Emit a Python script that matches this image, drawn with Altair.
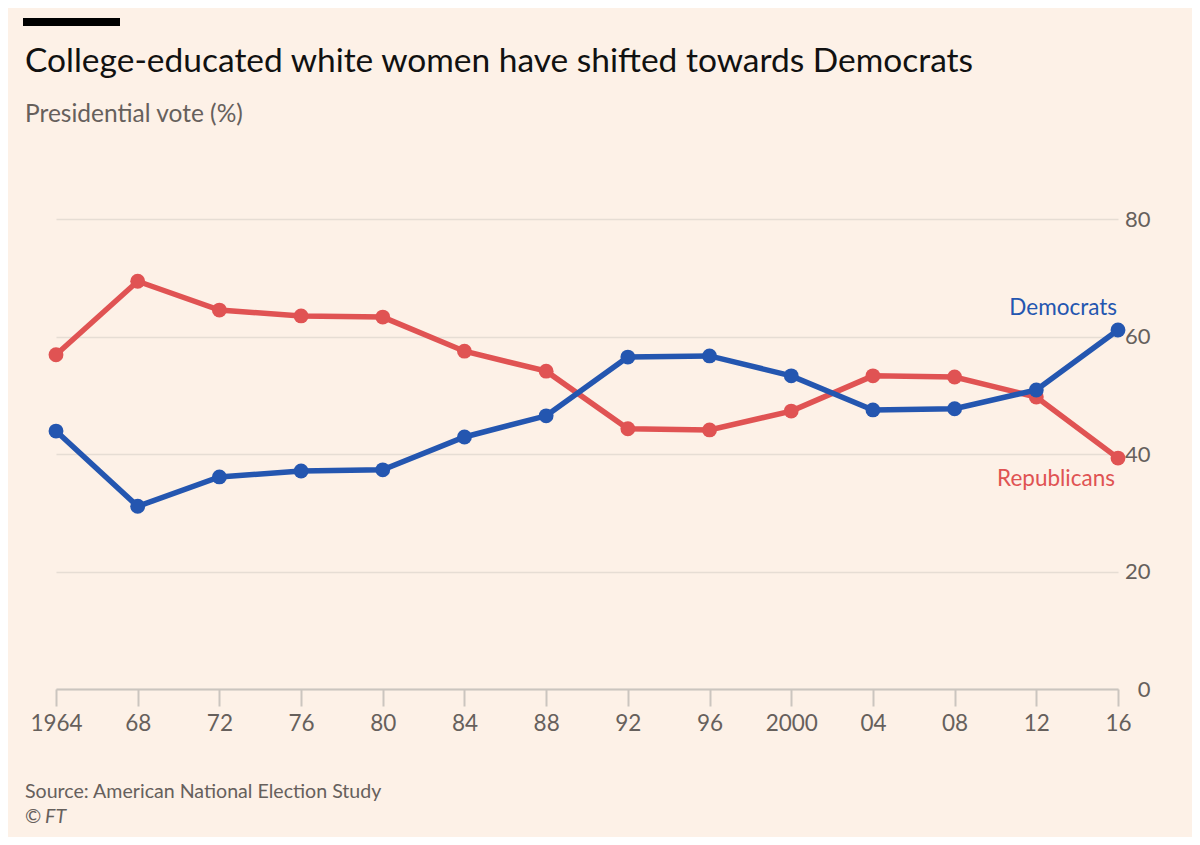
import altair as alt
import pandas as pd

years = [1964, 1968, 1972, 1976, 1980, 1984, 1988, 1992, 1996, 2000, 2004, 2008, 2012, 2016]
x_labels = ["1964", "68", "72", "76", "80", "84", "88", "92", "96", "2000", "04", "08", "12", "16"]
democrats = [43.9, 31.1, 36.1, 37.1, 37.3, 42.9, 46.5, 56.5, 56.7, 53.3, 47.5, 47.7, 50.9, 61.1]
republicans = [56.9, 69.4, 64.5, 63.5, 63.3, 57.5, 54.1, 44.3, 44.1, 47.3, 53.3, 53.1, 49.7, 39.3]
y_ticks = [0, 20, 40, 60, 80]

title_text = "College-educated white women have shifted towards Democrats"
subtitle_text = "Presidential vote (%)"
source_text = "Source: American National Election Study"

FONT = "Lato"
BLUE = "#2456b0"
RED = "#e05353"
GREY_TXT = "#66605c"
BG = "#fdf1e7"

dem_df = pd.DataFrame({"year": years, "value": democrats, "party": "Democrats"})
rep_df = pd.DataFrame({"year": years, "value": republicans, "party": "Republicans"})

label_expr = "".join(f"datum.value == {y} ? '{l}' : " for y, l in zip(years, x_labels)) + "''"

x_enc = alt.X(
    "year:Q",
    scale=alt.Scale(domain=[years[0], years[-1]], nice=False, zero=False),
    axis=alt.Axis(
        values=years, labelExpr=label_expr, title=None, grid=False,
        domainColor="#cbc5bf", domainWidth=2, tickColor="#cbc5bf", tickWidth=2,
        tickSize=17, labelFontSize=22.5, labelColor=GREY_TXT, labelPadding=6,
        labelFont=FONT, labelFlush=False,
    ),
)
y_enc = alt.Y(
    "value:Q",
    scale=alt.Scale(domain=[0, 80], nice=False),
    axis=alt.Axis(
        orient="right", values=y_ticks, title=None, grid=True,
        gridColor="#e6ddd4", gridWidth=1.5, domain=False, ticks=False,
        labelAlign="right", labelBaseline="middle", labelPadding=32,
        labelFontSize=22, labelColor=GREY_TXT, labelFont=FONT,
    ),
)

def series(df, color):
    base = alt.Chart(df).encode(x=x_enc, y=y_enc)
    line = base.mark_line(color=color, strokeWidth=5.5)
    pts = base.mark_circle(color=color, size=220, opacity=1)
    return line + pts

rep_layer = series(rep_df, RED)
dem_layer = series(dem_df, BLUE)

dem_label = alt.Chart(dem_df.tail(1)).mark_text(
    text="Democrats", align="right", baseline="alphabetic", dx=-1, dy=-15,
    fontSize=22.5, font=FONT, color=BLUE,
).encode(x=x_enc, y=y_enc)
rep_label = alt.Chart(rep_df.tail(1)).mark_text(
    text="Republicans", align="right", baseline="alphabetic", dx=-3, dy=28,
    fontSize=22.5, font=FONT, color=RED,
).encode(x=x_enc, y=y_enc)

one = pd.DataFrame({"a": [0]})
bar = alt.Chart(one).mark_rule(color="black", strokeWidth=8).encode(
    x=alt.value(-33), x2=alt.value(64), y=alt.value(-197)
)
title = alt.Chart(one).mark_text(
    text=title_text, align="left", baseline="alphabetic", fontSize=33.5,
    font=FONT, color="#111111",
).encode(x=alt.value(-31), y=alt.value(-147))
subtitle = alt.Chart(one).mark_text(
    text=subtitle_text, align="left", baseline="alphabetic", fontSize=24.5,
    font=FONT, color=GREY_TXT,
).encode(x=alt.value(-31), y=alt.value(-97))
source = alt.Chart(one).mark_text(
    text=source_text, align="left", baseline="alphabetic", fontSize=19.6,
    font=FONT, color=GREY_TXT,
).encode(x=alt.value(-31), y=alt.value(579))
copy_c = alt.Chart(one).mark_text(
    text="©", align="left", baseline="alphabetic", fontSize=19.6,
    font=FONT, color=GREY_TXT,
).encode(x=alt.value(-31), y=alt.value(604))
copy_ft = alt.Chart(one).mark_text(
    text="FT", align="left", baseline="alphabetic", fontSize=19.6, fontStyle="italic",
    font=FONT, color=GREY_TXT,
).encode(x=alt.value(-11), y=alt.value(604))

chart = alt.layer(
    rep_layer, dem_layer, dem_label, rep_label, bar, title, subtitle, source, copy_c, copy_ft
).properties(
    width=1062, height=470,
    autosize=alt.AutoSizeParams(type="none"),
    padding={"left": 48, "top": 211, "right": 74, "bottom": 148},
    background=BG,
).configure_view(stroke=None)

chart.save("out.html", embed_options={"renderer": "svg", "actions": False})
